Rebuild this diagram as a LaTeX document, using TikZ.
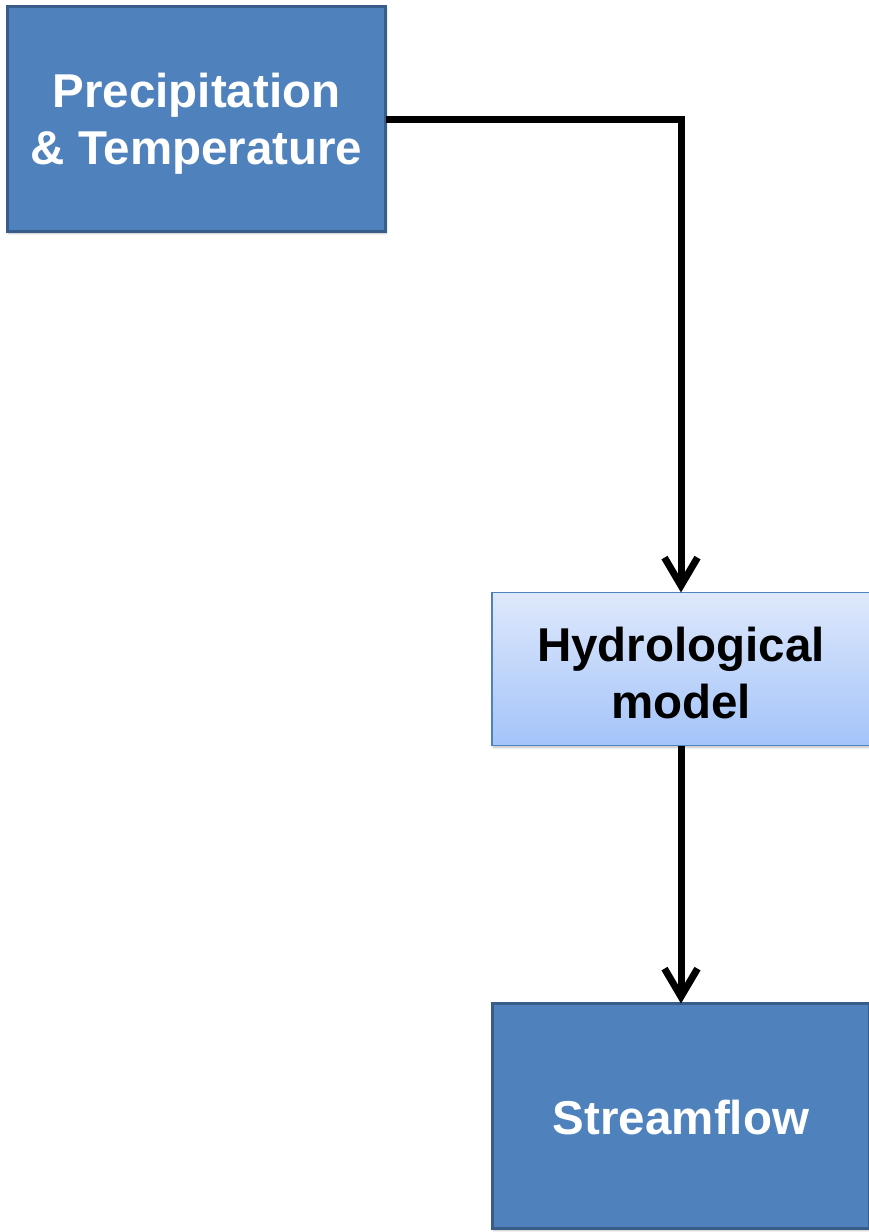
\documentclass[tikz,border=0pt]{standalone}
\usepackage{fontspec}
\setmainfont{Liberation Sans}
\usetikzlibrary{arrows.meta,shadows.blur}
\definecolor{boxfill}{RGB}{79,129,189}
\definecolor{boxline}{RGB}{56,93,138}
\definecolor{hydtop}{RGB}{222,232,251}
\definecolor{hydbot}{RGB}{164,196,250}
\begin{document}
\begin{tikzpicture}[x=1pt,y=1pt,
  darkbox/.style={rectangle, fill=boxfill, draw=boxline, line width=3pt,
    inner sep=0pt, outer sep=0pt, align=center, text=white,
    font=\fontsize{47.5}{57}\selectfont\bfseries,
    blur shadow={shadow xshift=1pt, shadow yshift=-2pt, shadow blur steps=6, shadow opacity=25}},
  lightbox/.style={rectangle, top color=hydtop, bottom color=hydbot, draw=boxfill, line width=1.5pt,
    inner sep=0pt, outer sep=0pt, align=center, text=black,
    font=\fontsize{47.5}{56}\selectfont\bfseries,
    blur shadow={shadow xshift=1pt, shadow yshift=-2pt, shadow blur steps=6, shadow opacity=25}},
  labeltext/.style={font=\fontsize{47.5}{57}\selectfont\bfseries, align=center, inner sep=0pt},
  flow/.style={line width=7pt, black, line join=miter,
    -{Straight Barb[length=28pt,width=33pt]}}]
\useasboundingbox (0,0) rectangle (869,-1232);
\node[darkbox, minimum width=378pt, minimum height=225pt] (pt) at (196.5,-119) {};
\node[labeltext, white] (ptt) at (196.5,-124) {Precipitation\\\& Temperature};
\node[lightbox, minimum width=378pt, minimum height=153pt] (hm) at (681,-669) {};
\node[labeltext, black] (hmt) at (681,-673) {Hydrological\\model};
\node[darkbox, minimum width=377pt, minimum height=225pt] (sf) at (681,-1116) {};
\node[labeltext, white] (sft) at (681,-1118) {Streamflow};
\draw[flow] (pt.east |- 0,-119) -| (hm.north);
\draw[flow] (hm.south) -- (sf.north);
\end{tikzpicture}
\end{document}
